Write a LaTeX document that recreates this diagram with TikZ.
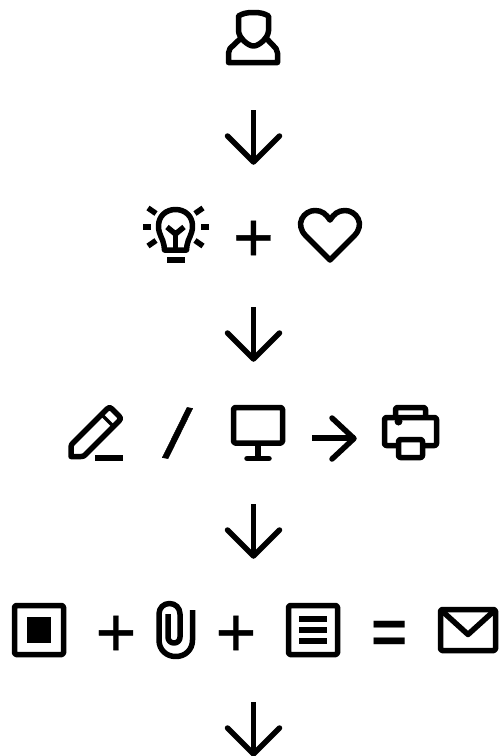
\documentclass[tikz,border=0pt]{standalone}
\usepackage{fontspec}
\setmainfont{Liberation Sans}
\newfontface\symface[FakeBold=0.6]{Liberation Sans}
\newfontface\eqface{Liberation Sans Bold}
\tikzset{
  icon/.style={draw=black,line width=5.5pt,line join=round,line cap=butt,fill=none},
  roundline/.style={icon,line cap=round},
  sym/.style={inner sep=0pt,outer sep=0pt,text=black,font=\symface\fontsize{70}{70}\selectfont},
  eqsym/.style={inner sep=0pt,outer sep=0pt,text=black,font=\eqface\fontsize{62}{62}\selectfont},
  pics/downarrow/.style={code={
    \draw[icon] (0,0) -- (0,52);
    \draw[icon,line cap=round] (-26,26) -- (0,52) -- (26,26);
  }}
}
\begin{document}
\begin{tikzpicture}[x=1pt,y=-1pt]
\useasboundingbox (0,0) rectangle (500,756);
% person
\draw[icon] (253.5,12.5) .. controls (246,12.5) and (243,13.5) .. (238.5,16) -- (238.5,31)
  .. controls (239,38) and (248,46) .. (253.5,46)
  .. controls (259,46) and (268,38) .. (268.5,31) -- (268.5,16)
  .. controls (264,13.5) and (261,12.5) .. (253.5,12.5) -- cycle;
\draw[icon] (240.5,38.5) -- (230,48.5) .. controls (229,50) and (228.5,51) .. (228.5,53)
  -- (228.5,62.5) -- (277.5,62.5) -- (277.5,53) .. controls (277.5,51) and (277,50) .. (276,48.5)
  -- (266.5,38.5);
\pic at (253.5,110) {downarrow};
% bulb
\draw[icon] (164.5,250) -- (164,245.5) .. controls (163,238) and (158.5,235) .. (158.5,226)
  .. controls (158.5,216) and (166,209.5) .. (175.5,209.5)
  .. controls (185,209.5) and (192.5,216) .. (192.5,226)
  .. controls (192.5,235) and (188,238) .. (187,245.5) -- (186.5,250) -- cycle;
\draw[icon] (167,227) -- (175.5,234) -- (184,227);
\draw[icon] (175.5,234) -- (175.5,250);
\draw[icon] (167,260) -- (185,260);
\draw[icon] (143,227) -- (151,227);
\draw[icon] (201,227) -- (209,227);
\draw[icon] (148,208) -- (156,213.5);
\draw[icon] (203,208) -- (195,213.5);
\draw[icon] (148,246) -- (156,240.5);
\draw[icon] (203,246) -- (195,240.5);
\node[sym] (p1) at (253.5,241) {+};
% heart
\draw[icon] (330,260) -- (306,236) .. controls (294,224) and (304,210.5) .. (315,210.5)
  .. controls (322,210.5) and (326,214) .. (330,220)
  .. controls (334,214) and (338,210.5) .. (345,210.5)
  .. controls (356,210.5) and (366,224) .. (354,236) -- cycle;
\pic at (253.5,307) {downarrow};
% pencil
\draw[icon] (71,456.5) -- (71,447) .. controls (71,445) and (72,444) .. (73,443)
  -- (107,409) .. controls (109,407) and (110,407) .. (112,409) -- (119,416)
  .. controls (121,418) and (121,419) .. (119,421) -- (85,455) .. controls (84,456) and (83,456.5) .. (81,456.5) -- cycle;
\draw[line width=3.5pt] (102,415) -- (113,426);
\draw[icon] (95,458) -- (123,458);
\node[sym,rotate=-11,scale=1.05] (sl) at (177.5,433) {/};
% monitor
\draw[icon,rounded corners=1.5pt] (233.5,407.5) rectangle (282.5,443);
\draw[icon] (258,443) -- (258,458);
\draw[roundline] (247,458.5) -- (269,458.5);
% arrow right
\draw[icon] (312,438) -- (355,438);
\draw[icon,line cap=round] (332,418) -- (354,438.5) -- (332,459);
% printer
\draw[icon,rounded corners=2pt] (395.5,417.5) -- (395.5,407.5) -- (425.5,407.5) -- (425.5,417.5);
\draw[icon,rounded corners=2pt] (398.5,445.5) -- (384.5,445.5) -- (384.5,417.5) -- (436.5,417.5) -- (436.5,445.5) -- (422.5,445.5);
\fill (398.5,421.5) circle (4pt);
\draw[icon,rounded corners=2pt] (398.5,439.5) rectangle (422.5,457.5);
\pic at (253.5,504) {downarrow};
% square
\draw[icon,rounded corners=1.5pt] (14.5,605.5) rectangle (63.5,654.5);
\fill (27,617) rectangle (51,643);
\node[sym] (p2) at (116,636) {+};
% clip
\draw[icon] (192.5,610) -- (192.5,640)
  .. controls (192.5,650) and (185,656.5) .. (175.75,656.5)
  .. controls (166.5,656.5) and (159,650) .. (159,640)
  -- (159,614)
  .. controls (159,608) and (163.5,603.5) .. (169.5,603.5)
  .. controls (175.5,603.5) and (180,608) .. (180,614)
  -- (180,637)
  .. controls (180,640.5) and (177.5,643) .. (174,643)
  .. controls (170.5,643) and (168,640.5) .. (168,637)
  -- (168,614);
\node[sym] (p3) at (236,636) {+};
% document
\draw[icon,rounded corners=1.5pt] (288.5,605.5) rectangle (337.5,654.5);
\draw[icon] (299,619) -- (327,619);
\draw[icon] (299,630) -- (327,630);
\draw[icon] (299,641) -- (327,641);
\node[eqsym] (eq) at (390,637) {=};
% envelope
\draw[icon,rounded corners=1.5pt] (440.5,609.5) rectangle (495.5,650.5);
\draw[icon] (441.5,610.5) -- (468,634.5) -- (494.5,610.5);
\pic at (253.5,702) {downarrow};
\end{tikzpicture}
\end{document}
